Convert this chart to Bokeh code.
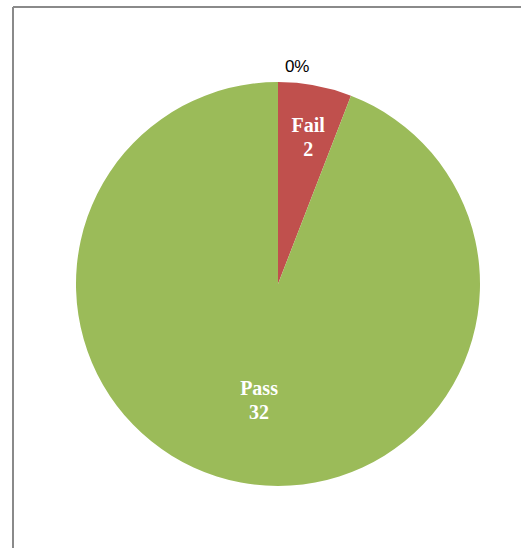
import math
from bokeh.plotting import figure
from bokeh.models import Range1d, ColumnDataSource
from bokeh.core.properties import value
from bokeh.embed import file_html
from bokeh.resources import INLINE

# Data
categories = ["Fail", "Pass", ""]
counts = [2, 32, 0]
colors = ["#C0504D", "#9BBB59", "#4F81BD"]
label_radius = [0.76, 0.565, 1.0]

W, H = 521, 548
R_PX = 202.0           # pie radius in px
CX, CY = 277.5, 283.5  # pie centre in figure px (from top-left)

p = figure(width=W, height=H, output_backend="svg", toolbar_location=None,
           min_border=0, x_range=Range1d(-CX / R_PX, (W - CX) / R_PX),
           y_range=Range1d(-(H - CY) / R_PX, CY / R_PX))
p.axis.visible = False
p.grid.visible = False
p.outline_line_color = None
p.background_fill_color = "white"
p.border_fill_color = "white"

total = sum(counts)
start = math.pi / 2
starts, ends, cols, mids = [], [], [], []
for c, v, col in zip(categories, counts, colors):
    sweep = 2 * math.pi * v / total
    end = start - sweep
    mids.append((start + end) / 2)
    if v > 0:
        starts.append(start)
        ends.append(end)
        cols.append(col)
    start = end

src = ColumnDataSource(dict(x=[0] * len(starts), y=[0] * len(starts),
                            s=starts, e=ends, c=cols))
p.wedge(x="x", y="y", radius=1.0, start_angle="s", end_angle="e",
        direction="clock", fill_color="c", line_color=None, source=src)

# Slice labels (name + value), white bold serif
for c, v, m, rf in zip(categories, counts, mids, label_radius):
    if v == 0:
        continue
    lx = rf * math.cos(m)
    ly = rf * math.sin(m)
    p.text(x=[lx], y=[ly], text=[c], text_align="center", text_baseline="alphabetic",
           x_offset=2, y_offset=-8, text_font=value("Liberation Serif"), text_font_style="bold",
           text_font_size="20px", text_color="white")
    p.text(x=[lx], y=[ly], text=[str(v)], text_align="center", text_baseline="alphabetic",
           x_offset=2, y_offset=16, text_font=value("Liberation Serif"), text_font_style="bold",
           text_font_size="20px", text_color="white")

# zero-value slice percentage label
for c, v, m in zip(categories, counts, mids):
    if v == 0:
        pct = f"{round(100 * v / total)}%"
        p.text(x=[0.095], y=[1.03], text=[pct], text_align="center",
               text_baseline="bottom", text_font=value("Liberation Sans"),
               text_font_size="17px", text_color="#000000")

# chart area border (left and top edges visible)
x0 = p.x_range.start + 12.5 / R_PX
y0 = p.y_range.end - 6.5 / R_PX
p.line(x=[x0, x0], y=[p.y_range.start - 1, y0], line_color="#8a8a8a", line_width=2)
p.line(x=[x0, p.x_range.end + 1], y=[y0, y0], line_color="#8a8a8a", line_width=2)

open("out.html", "w").write(file_html(p, INLINE))
